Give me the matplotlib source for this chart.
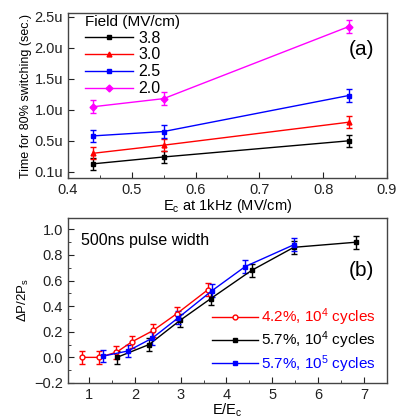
import matplotlib
matplotlib.use('Agg')
import matplotlib.pyplot as plt
from matplotlib.lines import Line2D
from matplotlib.ticker import MultipleLocator

plt.rcParams['font.family'] = ['Liberation Sans', 'DejaVu Sans']
plt.rcParams['mathtext.fontset'] = 'custom'
plt.rcParams['mathtext.rm'] = 'Liberation Sans'
plt.rcParams['mathtext.it'] = 'Liberation Sans'

# panel (a): switching time (us) vs Ec at 1kHz
ec = [0.44, 0.55, 0.84]
fields = ['3.8', '3.0', '2.5', '2.0']
t_38 = [0.13, 0.24, 0.50]
t_30 = [0.30, 0.43, 0.80]
t_25 = [0.58, 0.65, 1.23]
t_20 = [1.05, 1.18, 2.34]
err_a = [0.1, 0.1, 0.1]
ytick_vals = [0.0, 0.5, 1.0, 1.5, 2.0, 2.5]
ytick_labels = ['0.1u', '0.5u', '1.0u', '1.5u', '2.0u', '2.5u']

# panel (b): dP/2Ps vs E/Ec
x_red = [0.85, 1.22, 1.60, 1.93, 2.40, 2.91, 3.60]
y_red = [0.00, 0.00, 0.04, 0.12, 0.21, 0.34, 0.53]
x_blk = [1.61, 2.31, 2.99, 3.66, 4.55, 5.47, 6.83]
y_blk = [0.00, 0.10, 0.29, 0.46, 0.68, 0.86, 0.90]
x_blu = [1.31, 1.85, 2.38, 2.95, 3.68, 4.41, 5.47]
y_blu = [0.01, 0.05, 0.15, 0.31, 0.52, 0.71, 0.88]
err_b = 0.05
labels_b = ['4.2%, 10$^4$ cycles', '5.7%, 10$^4$ cycles', '5.7%, 10$^5$ cycles']


def style_axes(ax):
    for s in ax.spines.values():
        s.set_color('#444444')
        s.set_linewidth(1.0)
    ax.tick_params(direction='in', which='both', labelsize=10.5, colors='#222222')
    ax.tick_params(which='major', length=4)
    ax.tick_params(which='minor', length=2)


fig = plt.figure(figsize=(4.09, 4.19), dpi=100)

ax1 = fig.add_axes([0.166, 0.575, 0.780, 0.394])
series = [(t_38, 'black', 's'), (t_30, 'red', '^'), (t_25, 'blue', 's'), (t_20, 'magenta', 'D')]
handles_a = []
for vals, col, mk in series:
    ax1.errorbar(ec, vals, yerr=err_a, color=col, marker=mk, markersize=3.5,
                 lw=1.0, capsize=2, elinewidth=1.0)
    handles_a.append(Line2D([], [], color=col, marker=mk, markersize=3.5, lw=1.0))
ax1.set_xlim(0.4, 0.9)
ax1.set_ylim(-0.1, 2.56)
ax1.set_yticks(ytick_vals)
ax1.set_yticklabels(ytick_labels)
ax1.xaxis.set_minor_locator(MultipleLocator(0.05))
style_axes(ax1)
ax1.set_xlabel('E$_c$ at 1kHz (MV/cm)', fontsize=10.5, labelpad=0)
ax1.set_ylabel('Time for 80% switching (sec.)', fontsize=9, labelpad=2)
leg = ax1.legend(handles_a, fields, title='Field (MV/cm)', loc='upper left',
                 frameon=False, fontsize=11.5, title_fontsize=11,
                 handlelength=3.0, borderaxespad=0.0, labelspacing=0.12,
                 handletextpad=0.3, borderpad=0.1, bbox_to_anchor=(0.05, 1.0))
leg._legend_box.align = 'left'
ax1.text(0.96, 0.78, '(a)', transform=ax1.transAxes, fontsize=15,
         ha='right', va='center')

ax2 = fig.add_axes([0.166, 0.086, 0.780, 0.394])
series_b = [(x_red, y_red, 'red', 'o', 'white'),
            (x_blk, y_blk, 'black', 's', 'black'),
            (x_blu, y_blu, 'blue', 's', 'blue')]
handles_b = []
for xs, ys, col, mk, fc in series_b:
    ax2.errorbar(xs, ys, yerr=err_b, color=col, marker=mk, mfc=fc,
                 markersize=3.5, lw=1.0, capsize=2, elinewidth=1.0)
    handles_b.append(Line2D([], [], color=col, marker=mk, mfc=fc,
                            markersize=3.5, lw=1.0))
ax2.set_xlim(0.54, 7.5)
ax2.set_ylim(-0.2, 1.09)
ax2.xaxis.set_major_locator(MultipleLocator(1))
ax2.xaxis.set_minor_locator(MultipleLocator(0.5))
ax2.yaxis.set_major_locator(MultipleLocator(0.2))
ax2.yaxis.set_minor_locator(MultipleLocator(0.1))
style_axes(ax2)
ax2.set_xlabel('E/E$_c$', fontsize=10.5, labelpad=0)
ax2.set_ylabel(r'$\Delta$P/2P$_s$', fontsize=9.5, labelpad=2)
leg2 = ax2.legend(handles_b, labels_b, loc='lower right', frameon=False,
                  fontsize=11, handlelength=3.0, labelspacing=0.12,
                  handletextpad=0.2, borderaxespad=0.0, borderpad=0.1,
                  bbox_to_anchor=(0.97, 0.04))
for txt, col in zip(leg2.get_texts(), ['red', 'black', 'blue']):
    txt.set_color(col)
ax2.text(0.04, 0.86, '500ns pulse width', transform=ax2.transAxes,
         fontsize=11.5, ha='left', va='center')
ax2.text(0.96, 0.68, '(b)', transform=ax2.transAxes, fontsize=15,
         ha='right', va='center')

fig.savefig('out.png', dpi=100)
